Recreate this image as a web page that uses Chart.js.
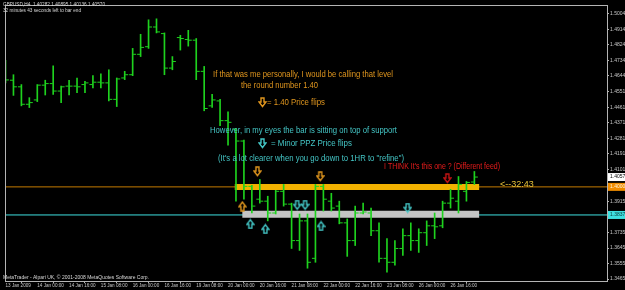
<!DOCTYPE html>
<html>
<head>
<meta charset="utf-8">
<title>GBPUSD H4</title>
<script src="https://cdn.jsdelivr.net/npm/chart.js@4.4.1/dist/chart.umd.min.js"></script>
<style>
  html, body { margin: 0; padding: 0; background: #000; overflow: hidden; }
  canvas { display: block; }
</style>
</head>
<body>
<canvas id="priceChart" width="625" height="290"></canvas>
<script>
// GBPUSD,H4 bars, 13 Jan 2009 08:00 .. 27 Jan 04:00
const opens = [
  1.46608, 1.46190, 1.45807, 1.44794, 1.45046, 1.45904, 1.45995, 1.45561, 1.45847, 1.45847,
  1.45938, 1.45938, 1.46076, 1.46035, 1.45080, 1.46321, 1.46510, 1.47694, 1.48135, 1.49279,
  1.48896, 1.46894, 1.48667, 1.48553, 1.48513, 1.46705, 1.44703, 1.44989, 1.43844, 1.43347,
  1.42660, 1.40029, 1.39285, 1.39170, 1.38484, 1.39743, 1.38999, 1.36882, 1.38026, 1.35852,
  1.40029, 1.39170, 1.38884, 1.37912, 1.36882, 1.38484, 1.38484, 1.37454, 1.35852, 1.35624,
  1.36425, 1.37168, 1.36882, 1.37340, 1.37740, 1.37740, 1.39056, 1.39170, 1.39743, 1.40282
];
const highs = [
  1.47351, 1.46510, 1.45938, 1.45177, 1.45938, 1.46190, 1.47025, 1.45847, 1.46190, 1.46321,
  1.46133, 1.46453, 1.46567, 1.46796, 1.46321, 1.46705, 1.48038, 1.48856, 1.49697, 1.49754,
  1.48936, 1.47563, 1.48799, 1.49085, 1.48610, 1.46991, 1.45366, 1.45080, 1.44359, 1.43404,
  1.42717, 1.40086, 1.40429, 1.39457, 1.39800, 1.40143, 1.39056, 1.38427, 1.38427, 1.40143,
  1.40143, 1.39628, 1.39170, 1.38141, 1.38884, 1.39056, 1.38770, 1.37912, 1.36997, 1.36882,
  1.37569, 1.37912, 1.37569, 1.38026, 1.38484, 1.39170, 1.39857, 1.40601, 1.40315, 1.40895
];
const lows = [
  1.46035, 1.45309, 1.44703, 1.44605, 1.44948, 1.45332, 1.45366, 1.44891, 1.45332, 1.45463,
  1.45463, 1.45749, 1.45749, 1.44989, 1.44662, 1.46224, 1.46453, 1.47563, 1.48038, 1.48936,
  1.46510, 1.46796, 1.47940, 1.48169, 1.46224, 1.44416, 1.44605, 1.43558, 1.42414, 1.39170,
  1.39285, 1.38484, 1.39056, 1.38026, 1.38427, 1.38884, 1.36425, 1.36310, 1.35280, 1.35624,
  1.38598, 1.38598, 1.37855, 1.35967, 1.36596, 1.38427, 1.37168, 1.35624, 1.35052, 1.35452,
  1.36024, 1.36310, 1.36196, 1.36596, 1.36997, 1.37626, 1.38770, 1.38484, 1.39170, 1.40136
];
const closes = [
  1.46207, 1.45807, 1.44794, 1.44891, 1.45904, 1.45995, 1.45561, 1.45807, 1.45847, 1.45807,
  1.46035, 1.46076, 1.46035, 1.45080, 1.46264, 1.46510, 1.47694, 1.48095, 1.49279, 1.48993,
  1.46894, 1.47277, 1.48610, 1.48513, 1.46705, 1.44548, 1.45046, 1.43844, 1.43747, 1.42660,
  1.40029, 1.38884, 1.39170, 1.38484, 1.39743, 1.38999, 1.36882, 1.38026, 1.35624, 1.40029,
  1.39285, 1.38770, 1.37912, 1.36882, 1.38484, 1.38541, 1.37454, 1.35852, 1.35624, 1.36425,
  1.37168, 1.36882, 1.37340, 1.37740, 1.37683, 1.39056, 1.39342, 1.40143, 1.40257, 1.40570
];

const timeLabels = ['13 Jan 2009', '14 Jan 00:00', '14 Jan 16:00', '15 Jan 08:00', '16 Jan 00:00',
  '16 Jan 16:00', '19 Jan 08:00', '20 Jan 00:00', '20 Jan 16:00', '21 Jan 08:00', '22 Jan 00:00',
  '22 Jan 16:00', '23 Jan 08:00', '26 Jan 00:00', '26 Jan 16:00'];
const timeLabelBars = [0, 4, 8, 12, 16, 20, 24, 28, 32, 36, 40, 44, 48, 52, 56];

const priceTicks = [1.50040, 1.49140, 1.48240, 1.47340, 1.46440, 1.45515, 1.44615, 1.43715,
  1.42815, 1.41915, 1.41015, 1.39150, 1.37350, 1.36450, 1.35550, 1.34650];
const lastPrice = 1.40570;
const roundLevel = 1.40000;
const supportLevel = 1.38370;

// hand-drawn zones (bar range + price)
const goldZone = { from: 28.85, to: 59.6, price: 1.40000 };
const greyZone = { from: 29.8, to: 59.6, price: 1.38410 };

// arrow marks: bar position and price
const orangeDownX = [31.7, 39.6], orangeDownY = [1.40887, 1.40601];
const orangeUpX = [29.8], orangeUpY = [1.38884];
const cyanUpX = [30.8, 32.7, 39.7], cyanUpY = [1.37855, 1.37569, 1.37740];
const cyanDownX = [36.7, 37.7, 50.6], cyanDownY = [1.38941, 1.38941, 1.38770];
const redDownX = [55.6], redDownY = [1.40487];

const headerLines = ['GBPUSD,H4  1.40282 1.40895 1.40136 1.40570', '32 minutes 43 seconds left to bar end'];
const footerText = 'MetaTrader - Alpari UK, \u00a9 2001-2008 MetaQuotes Software Corp.';
const orangeNotes = ['If that was me personally, I would be calling that level', 'the round number 1.40', '= 1.40 Price flips'];
const cyanNotes = ['However, in my eyes the bar is sitting on top of support', '= Minor PPZ Price flips',
  '(It\'s a lot clearer when you go down to 1HR to "refine")'];
const redNote = 'I THINK It\'s this one ? (Different feed)';
const timerNote = '<--32:43';

const GREEN = '#1ed21e';
const ORANGE = '#e0961e';
const CYAN = '#44c6c6';
const FRAME = '#b4b4b4';
const AXIS_TEXT = '#c8c8c8';
const FONT = '"Liberation Sans", Arial, sans-serif';

const X_MIN = 0.0625, X_MAX = 75.6875;

function arrowIcon(color, up) {
  const c = document.createElement('canvas');
  c.width = 9; c.height = 11;
  const g = c.getContext('2d');
  if (up) { g.translate(0, 11); g.scale(1, -1); }
  g.strokeStyle = color;
  g.lineWidth = 1.4;
  g.beginPath();
  g.moveTo(3, 1); g.lineTo(6, 1); g.lineTo(6, 5); g.lineTo(8, 5);
  g.lineTo(4.5, 9.5); g.lineTo(1, 5); g.lineTo(3, 5);
  g.closePath();
  g.stroke();
  return c;
}
const icons = {
  orangeDown: arrowIcon(ORANGE, false),
  orangeUp: arrowIcon(ORANGE, true),
  cyanDown: arrowIcon(CYAN, false),
  cyanUp: arrowIcon(CYAN, true),
  redDown: arrowIcon('#c41414', false)
};

const toPoints = (xs, ys) => xs.map((x, i) => ({ x: x, y: ys[i] }));

function markSet(xs, ys, icon) {
  return {
    type: 'scatter', data: toPoints(xs, ys), pointStyle: icon,
    pointRadius: 5, order: 0
  };
}

function levelSet(from, to, price, color, width, order) {
  return {
    type: 'line', data: [{ x: from, y: price }, { x: to, y: price }],
    borderColor: color, borderWidth: width, borderCapStyle: 'butt',
    pointRadius: 0, order: order
  };
}

const notesPlugin = {
  id: 'notes',
  afterDraw(chart) {
    const { ctx, chartArea } = chart;
    ctx.save();
    ctx.strokeStyle = FRAME;
    ctx.lineWidth = 1;
    ctx.strokeRect(chartArea.left - 0.5, chartArea.top - 0.5,
      chartArea.right - chartArea.left + 1, chartArea.bottom - chartArea.top + 1);

    ctx.textBaseline = 'middle';
    ctx.textAlign = 'left';
    const put = (text, x, y, color, size, maxW) => {
      ctx.fillStyle = color;
      ctx.font = size + 'px ' + FONT;
      ctx.fillText(text, x, y, maxW);
    };

    put(headerLines[0], 3, 4.5, '#d8d8d8', 5.5, 102);
    put(headerLines[1], 3, 10.5, '#d8d8d8', 5.5, 78);
    put(footerText, 3, 277.5, '#d8d8d8', 5.5, 146);

    put(orangeNotes[0], 213, 75, ORANGE, 9, 180);
    put(orangeNotes[1], 241, 86, ORANGE, 9, 77);
    ctx.drawImage(icons.orangeDown, 258, 97);
    put(orangeNotes[2], 267, 102.5, ORANGE, 9, 58);

    put(cyanNotes[0], 210, 131, CYAN, 9, 187);
    ctx.drawImage(icons.cyanDown, 258, 138);
    put(cyanNotes[1], 271, 143.5, CYAN, 9, 81);
    put(cyanNotes[2], 218, 159, CYAN, 9, 186);

    put(redNote, 384, 166.5, '#e81c1c', 9, 116);
    put(timerNote, 500, 184.5, '#e6c23a', 9, 40);
    ctx.restore();
  }
};

const specialPrices = [lastPrice, roundLevel, supportLevel];
const labelBack = { [lastPrice]: '#ffffff', [roundLevel]: '#f08c00', [supportLevel]: '#3ee0e0' };
const labelInk = { [lastPrice]: '#000000', [roundLevel]: '#fff4dc', [supportLevel]: '#0a3a3a' };

const ctx = document.getElementById('priceChart').getContext('2d');
new Chart(ctx, {
  type: 'bar',
  data: {
    datasets: [
      {
        type: 'bar',
        data: opens.map((o, i) => ({ x: i, y: [lows[i], highs[i]] })),
        backgroundColor: GREEN, borderWidth: 0, barThickness: 1, grouped: false, order: 2
      },
      {
        type: 'scatter',
        data: opens.map((o, i) => ({ x: i - 0.25, y: o })),
        pointStyle: 'line', pointRadius: 1.5, pointBorderColor: GREEN, pointBorderWidth: 1, order: 2
      },
      {
        type: 'scatter',
        data: closes.map((c, i) => ({ x: i + 0.25, y: c })),
        pointStyle: 'line', pointRadius: 1.5, pointBorderColor: GREEN, pointBorderWidth: 1, order: 2
      },
      levelSet(X_MIN - 1, X_MAX + 1, roundLevel, '#c47a00', 1, 6),
      levelSet(X_MIN - 1, X_MAX + 1, supportLevel, '#3ee0e0', 1, 6),
      levelSet(goldZone.from, goldZone.to, goldZone.price, '#f2b200', 6, 5),
      levelSet(greyZone.from, greyZone.to, greyZone.price, '#c4c4c4', 7, 5),
      markSet(orangeDownX, orangeDownY, icons.orangeDown),
      markSet(orangeUpX, orangeUpY, icons.orangeUp),
      markSet(cyanUpX, cyanUpY, icons.cyanUp),
      markSet(cyanDownX, cyanDownY, icons.cyanDown),
      markSet(redDownX, redDownY, icons.redDown)
    ]
  },
  options: {
    responsive: false,
    devicePixelRatio: 1,
    animation: false,
    events: [],
    layout: { padding: { left: 2, top: 2, right: 0, bottom: 0 } },
    plugins: { legend: { display: false }, tooltip: { enabled: false } },
    scales: {
      x: {
        type: 'linear', min: X_MIN, max: X_MAX, offset: false,
        border: { display: false },
        grid: { drawOnChartArea: false, tickLength: 2, color: FRAME },
        afterBuildTicks: (s) => { s.ticks = timeLabelBars.map(v => ({ value: v })); },
        afterFit: (s) => { s.height = 9; },
        ticks: {
          autoSkip: false, maxRotation: 0, align: 'start', padding: 0,
          color: AXIS_TEXT, font: { family: FONT, size: 4.6 },
          callback: (v, i) => timeLabels[i]
        }
      },
      y: {
        type: 'linear', position: 'right', min: 1.34537, max: 1.50498,
        border: { display: false },
        grid: { drawOnChartArea: false, tickLength: 2, color: FRAME },
        afterBuildTicks: (s) => { s.ticks = priceTicks.concat(specialPrices).map(v => ({ value: v })); },
        afterFit: (s) => { s.width = 18; },
        ticks: {
          padding: 1,
          font: { family: FONT, size: 5 },
          color: (c) => labelInk[c.tick.value] || AXIS_TEXT,
          showLabelBackdrop: true,
          backdropColor: (c) => labelBack[c.tick.value] || 'rgba(0,0,0,0)',
          backdropPadding: { x: 2, y: 1 },
          callback: (v) => v.toFixed(5)
        }
      }
    }
  },
  plugins: [notesPlugin]
});
</script>
</body>
</html>
